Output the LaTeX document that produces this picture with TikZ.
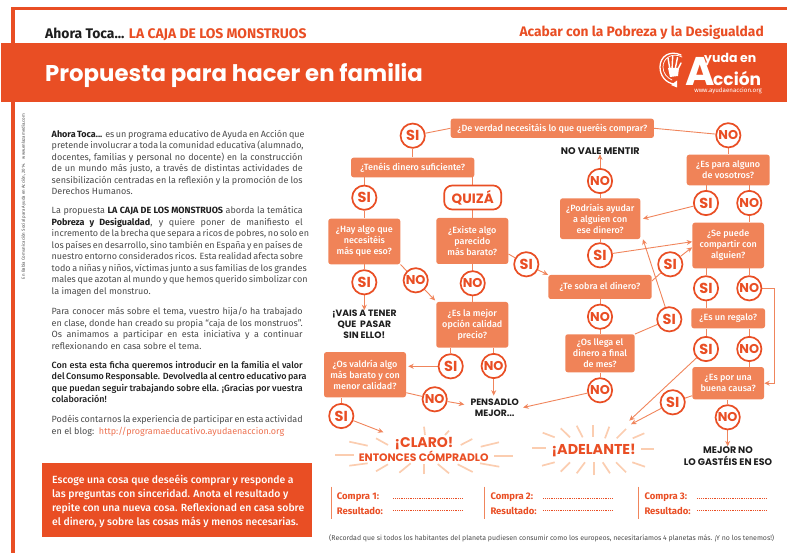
\documentclass[tikz,border=0pt]{standalone}
\usepackage{fontspec}
\usetikzlibrary{arrows.meta,backgrounds}
\setmainfont{Fira Sans}
\newfontfamily\pop{Poppins}
\newfontfamily\fmed{Fira Sans Medium}
\definecolor{org}{HTML}{E94E24}
\definecolor{boxo}{HTML}{F08358}
\definecolor{lineo}{HTML}{F0855C}
\definecolor{rayo}{HTML}{FBCDB0}
\definecolor{bodyc}{HTML}{4A4A4A}
\definecolor{ink}{HTML}{1E1E1E}
\newcommand{\jl}[1]{\hbox to 251pt{\strut #1}}
\newcommand{\rl}[1]{\hbox{\strut #1}}
\tikzset{
  qbox/.style={rectangle,rounded corners=2.5pt,fill=boxo,text=white,align=center,inner sep=0pt,
    font=\fmed\fontsize{9}{11}\selectfont},
  yes/.style={circle,draw=org,line width=1.7pt,fill=white,text=org,inner sep=0pt,minimum size=24.3pt,
    font=\pop\fontsize{14.5}{14}\selectfont\bfseries},
  nope/.style={yes,font=\pop\fontsize{12.8}{14}\selectfont\bfseries},
  conn/.style={draw=lineo,line width=0.9pt},
  arr/.style={conn,-{Stealth[length=5.5pt,width=5pt]}},
  ray/.style={draw=rayo,line width=1.7pt},
  blk/.style={inner sep=0pt,align=center,text=ink,font=\pop\fontsize{9.2}{10.6}\selectfont\bfseries},
  para/.style={inner sep=0pt,anchor=base west,text=bodyc,font=\fontsize{9}{11.5}\selectfont},
  cmp/.style={inner sep=0pt,anchor=base west,text=org,font=\fontsize{9.5}{11}\selectfont\bfseries},
  dotl/.style={draw=org,line width=0.5pt,dash pattern=on 0.7pt off 1.1pt},
}
\begin{document}
\begin{tikzpicture}[x=1pt,y=-1pt]
\useasboundingbox (0,0) rectangle (787,553);
% frame and band
\fill[org] (11,7) rectangle (787,10.5);
\fill[org] (11,7) rectangle (15,553);
\fill[org] (1,43.3) rectangle (787,102.3);
% header text
\node[inner sep=0pt,anchor=base west,font=\fontsize{13.9}{14}\selectfont\bfseries] (head) at (45,38.5) {\textcolor{ink}{Ahora Toca...} \textcolor{org}{LA CAJA DE LOS MONSTRUOS}};
\node[inner sep=0pt,anchor=base east,text=org,font=\fontsize{13.8}{14}\selectfont\bfseries] (theme) at (764,36.5) {Acabar con la Pobreza y la Desigualdad};
\node[inner sep=0pt,anchor=base west,text=white,font=\pop\fontsize{22.8}{24}\selectfont\bfseries] (title) at (45,82) {Propuesta para hacer en familia};
% logo
\draw[white,line width=1.3pt,line cap=round] (681,55) .. controls (670,50) and (660,56) .. (660,67) .. controls (660,76) and (666,83) .. (674,84);
\draw[white,line width=0.7pt,line cap=round] (682,57) .. controls (672,52) and (663,58) .. (663,67) .. controls (663,73) and (667,78) .. (672,80);
\fill[white] (677,80.5) -- (677,87.5) -- (671,85) -- cycle;
\draw[white,line width=1.4pt,line cap=round] (670,70) -- (668,58) (672,70) -- (672.7,56) (675,70) -- (677.5,57.5) (677,71) -- (681,63);
\fill[white] (668,68) -- (679,68) -- (678,76) -- (670,77) -- cycle;
\node[inner sep=0pt,text=white,font=\pop\fontsize{40}{40}\selectfont\bfseries] (logoa) at (700,71) {A};
\node[inner sep=0pt,anchor=west,text=white,font=\pop\fontsize{12.5}{12}\selectfont\bfseries] (logob) at (704,60) {yuda en};
\node[inner sep=0pt,anchor=west,text=white,font=\pop\fontsize{17}{16}\selectfont\bfseries] (logoc) at (713,78) {cción};
\node[inner sep=0pt,anchor=east,text=white,font=\fontsize{6.2}{7}\selectfont] (logod) at (762,91) {www.ayudaenaccion.org};
% side credit
\node[inner sep=0pt,rotate=90,text=bodyc,font=\fontsize{4.4}{5}\selectfont] (credit) at (23.5,196.5) {En Babia Comunicación Social para Ayuda en Acción, 2014.\quad www.enlazamedia.com};
% body
\node[para] (p1) at (51.5,137.3) {\vtop{
\jl{\textbf{\textcolor{ink}{Ahora Toca...}} es un programa educativo de Ayuda en Acción que}
\jl{pretende involucrar a toda la comunidad educativa (alumnado,}
\jl{docentes, familias y personal no docente) en la construcción}
\jl{de un mundo más justo, a través de distintas actividades de}
\jl{sensibilización centradas en la reflexión y la promoción de los}
\rl{Derechos Humanos.}}};
\node[para] (p2) at (51.5,214) {\vtop{
\jl{La propuesta \textbf{\textcolor{ink}{LA CAJA DE LOS MONSTRUOS}} aborda la temática}
\jl{\textbf{\textcolor{ink}{Pobreza y Desigualdad}}, y quiere poner de manifiesto el}
\jl{incremento de la brecha que separa a ricos de pobres, no solo en}
\jl{los países en desarrollo, sino también en España y en países de}
\jl{nuestro entorno considerados ricos. Esta realidad afecta sobre}
\jl{todo a niñas y niños, víctimas junto a sus familias de los grandes}
\jl{males que azotan al mundo y que hemos querido simbolizar con}
\rl{la imagen del monstruo.}}};
\node[para] (p3) at (51.5,314.6) {\vtop{
\jl{Para conocer más sobre el tema, vuestro hija/o ha trabajado}
\jl{en clase, donde han creado su propia “caja de los monstruos”.}
\jl{Os animamos a participar en esta iniciativa y a continuar}
\rl{reflexionando en casa sobre el tema.}}};
\node[para,text=ink] (p4) at (51.5,368.3) {\vtop{\fmed
\jl{Con esta esta ficha queremos introducir en la familia el valor}
\jl{del Consumo Responsable. Devolvedla al centro educativo para}
\jl{que puedan seguir trabajando sobre ella. ¡Gracias por vuestra}
\rl{colaboración!}}};
\node[para] (p5) at (51.5,422.6) {\vtop{
\jl{Podéis contarnos la experiencia de participar en esta actividad}
\rl{en el blog:\ \ \textcolor{org!80}{http://programaeducativo.ayudaenaccion.org}}}};
% call box
\node[rectangle,fill=org,minimum width=269.7pt,minimum height=73.4pt,inner sep=0pt] (call) at (176.85,500) {};
\node[inner sep=0pt,anchor=base west,text=white,font=\fmed\fontsize{10.4}{14}\selectfont] (calltxt) at (52,483) {\vtop{
\rl{Escoge una cosa que deseéis comprar y responde a}
\rl{las preguntas con sinceridad. Anota el resultado y}
\rl{repite con una nueva cosa. Reflexionad en casa sobre}
\rl{el dinero, y sobre las cosas más y menos necesarias.}}};
% questions
\node[qbox,minimum width=203.3pt,minimum height=19.3pt] (deverdad) at (552.3,128.3) {¿De verdad necesitáis lo que queréis comprar?};
\node[qbox,minimum width=123.3pt,minimum height=19.6pt] (ten) at (412.7,167.5) {¿Tenéis dinero suficiente?};
\node[qbox,minimum width=72pt,minimum height=45.6pt] (hay) at (364.3,241.5) {¿Hay algo que\\necesitéis\\más que eso?};
\node[qbox,minimum width=72pt,minimum height=46pt] (existe) at (472.3,241) {¿Existe algo\\parecido\\más barato?};
\node[qbox,minimum width=72pt,minimum height=45.7pt] (mejor) at (472.3,324.8) {¿Es la mejor\\opción calidad\\precio?};
\node[qbox,minimum width=82pt,minimum height=45.3pt] (valdria) at (365,374.7) {¿Os valdría algo\\más barato y con\\menor calidad?};
\node[qbox,minimum width=103.4pt,minimum height=24pt] (sobra) at (600,287) {¿Te sobra el dinero?};
\node[qbox,minimum width=80.3pt,minimum height=40.7pt] (podriais) at (600.2,218.7) {¿Podríais ayudar\\a alguien con\\ese dinero?};
\node[qbox,minimum width=69.4pt,minimum height=38pt] (llega) at (600,353.3) {¿Os llega el\\dinero a final\\de mes?};
\node[qbox,minimum width=83pt,minimum height=30.6pt] (espara) at (728.2,170) {¿Es para alguno\\de vosotros?};
\node[qbox,minimum width=71.7pt,minimum height=45.6pt] (sepuede) at (728.2,245.5) {¿Se puede\\compartir con\\alguien?};
\node[qbox,minimum width=73.7pt,minimum height=20pt] (regalo) at (728.2,318.3) {¿Es un regalo?};
\node[qbox,minimum width=71.7pt,minimum height=32.3pt] (causa) at (728.2,383.2) {¿Es por una\\buena causa?};
\node[rectangle,rounded corners=8pt,draw=org,line width=1.7pt,fill=white,text=org,minimum width=57pt,minimum height=24pt,inner sep=0pt,font=\pop\fontsize{13.5}{13}\selectfont\bfseries] (quiza) at (472.7,197.5) {QUIZÁ};
% answers
\node[yes] (sitop) at (412.7,135.7) {SI};
\node[nope] (notop) at (728.3,135.3) {NO};
\node[yes] (sia) at (364.3,197.7) {SI};
\node[yes] (sib) at (364.3,282.3) {SI};
\node[nope] (noa) at (415.7,280.3) {NO};
\node[nope] (nob) at (472.7,283.3) {NO};
\node[yes] (sic) at (526.3,264.3) {SI};
\node[yes] (sid) at (450.7,366.3) {SI};
\node[nope] (noc) at (493.7,366) {NO};
\node[nope] (nod) at (434.7,399.3) {NO};
\node[yes] (sie) at (341.3,416) {SI};
\node[nope] (nof) at (600,181) {NO};
\node[yes] (sig) at (600,255.3) {SI};
\node[yes] (sih) at (706,203) {SI};
\node[nope] (noe) at (749.3,203) {NO};
\node[yes] (sin) at (670.3,264.3) {SI};
\node[yes] (sij) at (706,288.3) {SI};
\node[nope] (nog) at (749.3,288.3) {NO};
\node[yes] (sik) at (706,349) {SI};
\node[nope] (noh) at (749.3,349) {NO};
\node[yes] (sil) at (672.7,402.3) {SI};
\node[nope] (noi) at (727.7,417.3) {NO};
\node[yes] (sim) at (669.3,319.3) {SI};
\node[nope] (nok) at (600,316.7) {NO};
\node[nope] (non) at (600,390.3) {NO};
% outcomes
\node[blk,font=\pop\fontsize{9.6}{10.6}\selectfont\bfseries] (novale) at (600.3,150.7) {NO VALE MENTIR};
\node[blk] (vais) at (364.3,324.3) {¡VAIS A TENER\\QUE\ \ PASAR\\SIN ELLO!};
\node[blk] (pensadlo) at (494.7,407.5) {PENSADLO\\MEJOR...};
\node[blk,font=\pop\fontsize{9.5}{11.7}\selectfont\bfseries] (mejorno) at (728,455.8) {MEJOR NO\\LO GASTÉIS EN ESO};
\node[inner sep=0pt,text=org,font=\pop\fontsize{14}{16}\selectfont\bfseries] (claro) at (424,443.3) {¡CLARO!};
\node[inner sep=0pt,text=org,font=\pop\fontsize{10.8}{11}\selectfont\bfseries] (entonces) at (423.7,456) {ENTONCES CÓMPRADLO};
\node[inner sep=0pt,text=org,font=\pop\fontsize{14.3}{16}\selectfont\bfseries] (adelante) at (593.7,450) {¡ADELANTE!};
% bottom table
\foreach \xa in {331,484.3,638.7} \draw[draw=lineo,line width=1pt] (\xa,486.7) -- (\xa,519.3);
\node[cmp] (c1) at (336.7,499) {Compra 1:};
\node[cmp] (r1) at (336.7,514) {Resultado:};
\node[cmp] (c2) at (490.3,499) {Compra 2:};
\node[cmp] (r2) at (490.3,514) {Resultado:};
\node[cmp] (c3) at (644.3,499) {Compra 3:};
\node[cmp] (r3) at (644.3,514) {Resultado:};
\foreach \xa/\xb in {393.3/462,543.3/612.3,697.3/766} {
  \draw[dotl] (\xa,498.3) -- (\xb,498.3);
  \draw[dotl] (\xa,510.3) -- (\xb,510.3);
}
\node[inner sep=0pt,anchor=base west,text=bodyc,font=\fontsize{7.4}{8}\selectfont] (foot) at (329,540) {\resizebox{445pt}{!}{(Recordad que si todos los habitantes del planeta pudiesen consumir como los europeos, necesitaríamos 4 planetas más. ¡Y no los tenemos!)}};
% rays
\foreach \a/\b/\c/\d in {349.3/441.7/367.7/445.7,376/438.3/388/445,424/426.7/425/435,445/435/449/430.7,460.7/445/472.3/439,480.7/446.7/499/442.3,335/455/354.3/455,494/455.7/513.3/455.7,349.3/465.7/367.7/463.3,376/471.3/388/464.3,399.3/472.7/410.7/463.3,424/474.3/424/464.3,437.7/464/449/473.3,457.7/464.3/472.7/472,480/463.3/499.3/466.7,532/448.3/546/448.3,641.3/449/654.3/449,542.7/432.7/554.7/437.3,560.7/428.3/570/437.3,576.7/425.7/582.7/437.3,593.3/425/593.3/437.3,609.3/426.7/605/438.3,626/429/616.7/438.3,644.3/433.3/632.7/438.3,542/465.7/554.7/462.3,560.7/471.7/570/462.3,576.7/473.3/585/462.3,593.7/475.3/593.7/462.3,602.7/462.3/610/473.3,616/462.3/626/472.3,632.3/462.3/645/466.7}
  \draw[ray] (\a,\b) -- (\c,\d);
% connectors
\begin{scope}[on background layer]
\draw[conn] (deverdad.west) -- (sitop);
\draw[conn] (deverdad.east) -- (notop);
\draw[conn] (sitop) -- (ten);
\draw[conn] (sia) -- (sia |- ten.south);
\draw[conn] (quiza) -- (quiza |- ten.south);
\draw[conn] (sia) -- (sia |- hay.north);
\draw[conn] (quiza) -- (quiza |- existe.north);
\draw[conn] (sib) -- (sib |- hay.south);
\draw[arr] (sib) -- (sib |- vais.north);
\draw[conn] (hay.south east) -- (noa);
\draw[arr] (noa) -- ([xshift=-1pt,yshift=1.3pt]mejor.north west);
\draw[conn] (nob |- existe.south) -- (nob |- mejor.north);
\draw[conn] ([yshift=-13pt]existe.east) -- (sic);
\draw[arr] (sic) -- (sobra.north west);
\draw[conn] (sid) -- (sid |- mejor.south);
\draw[conn] (noc) -- (noc |- mejor.south);
\draw[arr] (noc) -- ([xshift=-1pt,yshift=3pt]pensadlo.north);
\draw[arr,shorten >=2pt] (sid) -- (valdria.east |- sid);
\draw[conn] ([yshift=-18pt]valdria.east) -- (nod);
\draw[arr] (nod) -- ([xshift=-6pt,yshift=3pt]pensadlo.west);
\draw[conn] (sie) -- (sie |- valdria.south);
\draw[arr] (sie) -- ([xshift=-11pt,yshift=11pt]claro.west);
\draw[arr] (nof) -- (nof |- novale.south);
\draw[conn] (nof) -- (nof |- podriais.north);
\draw[conn] (sig) -- (sig |- podriais.south);
\draw[arr] (sig) -- ([yshift=3.8pt]sepuede.west);
\draw[arr] (sih) -- ([xshift=2.4pt]podriais.east);
\draw[conn] (notop) -- (notop |- espara.north);
\draw[conn] (sih) -- (sih |- espara.south);
\draw[conn] (noe) -- (noe |- espara.south);
\draw[conn] (noe) -- (noe |- sepuede.north);
\draw[conn] (sij) -- (sij |- sepuede.south);
\draw[conn] (nog) -- (nog |- sepuede.south);
\draw[conn] (sij) -- (sij |- regalo.north);
\draw[conn] (sik) -- (sik |- regalo.south);
\draw[conn] (noh) -- (noh |- regalo.south);
\draw[conn] (noh) -- (noh |- causa.north);
\coordinate (elb) at ([xshift=10pt]causa.east);
\draw[arr] (nog) -| (elb) -- (causa.east);
\draw[arr] (sik) -- ([xshift=-6.7pt,yshift=29.3pt]adelante.east);
\draw[conn] ([yshift=-12.5pt]causa.west) -- (sil);
\draw[arr] (sil) -- ([xshift=-5pt,yshift=25.7pt]adelante.east);
\draw[conn] (noi) -- (noi |- causa.south);
\draw[arr] (noi) -- (noi |- mejorno.north);
\draw[conn] (nok |- sobra.south) -- (nok |- llega.north);
\draw[conn] (llega.north east) -- (sim);
\draw[arr] (sim) -- ([xshift=2.4pt]podriais.south east);
\draw[conn] ([yshift=6pt]sobra.east) -- (sin);
\draw[arr] (sin) -- ([yshift=-1.8pt]sepuede.west);
\draw[conn] (non) -- (non |- llega.south);
\draw[arr] (non) -- ([xshift=4pt]pensadlo.east);
\end{scope}
\end{tikzpicture}
\end{document}
